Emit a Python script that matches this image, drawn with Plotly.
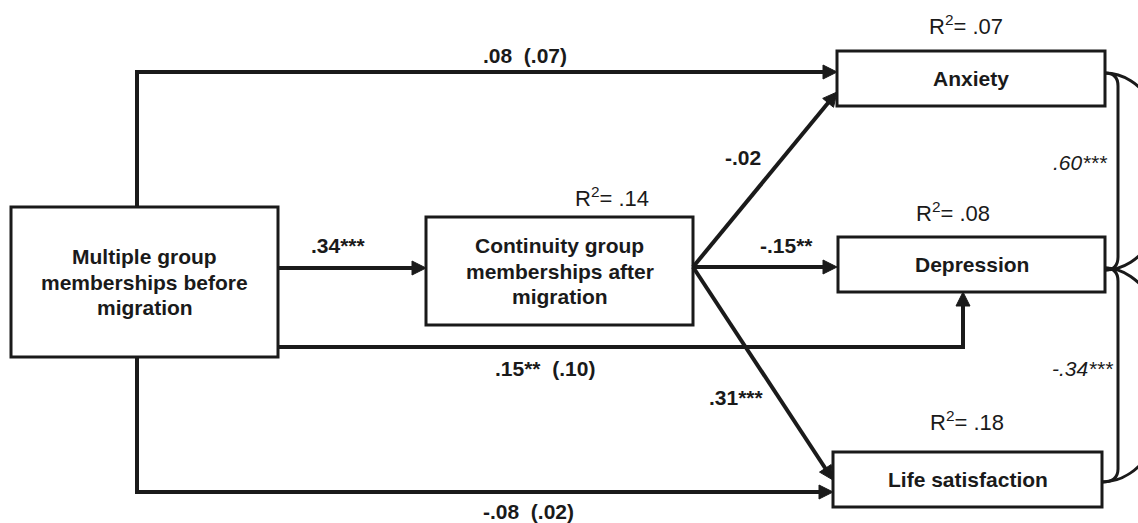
import math
import plotly.graph_objects as go

# ---------------- content ----------------
node_labels = [
    ["Multiple group", "memberships before", "migration"],
    ["Continuity group", "memberships after", "migration"],
    ["Anxiety"],
    ["Depression"],
    ["Life satisfaction"],
]
r2_labels = ["", ".14", ".07", ".08", ".18"]
path_labels = [".34***", "-.02", "-.15**", ".31***"]
direct_labels = [".08\u00a0\u00a0(.07)", ".15**\u00a0\u00a0(.10)", "-.08\u00a0\u00a0(.02)"]
corr_labels = [".60***", "-.34***"]

# ---------------- layout geometry (pixels, y down) ----------------
W, H = 1138, 523
boxes = [  # x0, y0, x1, y1
    (11, 207, 278, 357),
    (426, 217, 693, 325),
    (837, 51, 1105, 106),
    (838, 237, 1105, 292),
    (833, 452, 1102, 507),
]
LINE_H = 25.5
r2_pos = [None, (612, 197), (966, 25), (953, 212), (967, 421)]
path_pos = [(338, 245), (743, 157), (786, 245), (736, 397)]
direct_pos = [(525, 55), (545, 368), (528, 511)]
corr_pos = [(1080, 162), (1083, 368)]

# arrow polylines (last point is the arrow tip)
arrows = [
    [(137, 207), (137, 72), (837, 72)],
    [(278, 268), (426, 268)],
    [(693, 267), (837, 92)],
    [(693, 267), (837, 267)],
    [(693, 267), (833, 480)],
    [(278, 347), (963, 347), (963, 292)],
    [(137, 357), (137, 492), (833, 492)],
]

FONT = "Liberation Sans, Arial, sans-serif"
INK = "#1a1a1a"
FS = 21

shapes = []
annotations = []

for (x0, y0, x1, y1) in boxes:
    shapes.append(dict(type="rect", xref="x", yref="y", x0=x0, y0=y0, x1=x1, y1=y1,
                       line=dict(color=INK, width=3), fillcolor="white", layer="above"))

HEAD_L, HEAD_W = 14, 14
for pts in arrows:
    (xa, ya), (xt, yt) = pts[-2], pts[-1]
    d = math.hypot(xt - xa, yt - ya)
    ux, uy = (xt - xa) / d, (yt - ya) / d
    bx, by = xt - ux * HEAD_L, yt - uy * HEAD_L
    ex, ey = xt - ux * HEAD_L * 0.6, yt - uy * HEAD_L * 0.6
    line_pts = pts[:-1] + [(ex, ey)]
    p = "M " + " L ".join(f"{x:.1f},{y:.1f}" for x, y in line_pts)
    shapes.append(dict(type="path", xref="x", yref="y", path=p,
                       line=dict(color=INK, width=4)))
    nx, ny = -uy, ux
    tri = (f"M {xt:.1f},{yt:.1f} L {bx + nx*HEAD_W/2:.1f},{by + ny*HEAD_W/2:.1f} "
           f"L {bx - nx*HEAD_W/2:.1f},{by - ny*HEAD_W/2:.1f} Z")
    shapes.append(dict(type="path", xref="x", yref="y", path=tri,
                       line=dict(color=INK, width=1), fillcolor=INK))

# residual correlation brackets and arcs
def bracket(xs, ys, xe, ye, xin=1118, r=13, rx=66):
    inner = (f"M {xs},{ys} Q {xin},{ys} {xin},{ys + r} L {xin},{ye - r} "
             f"Q {xin},{ye} {xe},{ye}")
    cy = (ys + ye) / 2
    ry = (ye - ys) / 2
    k = 0.5523
    xc = max(xs, xe)
    outer = (f"M {xs},{ys} C {xc + rx*k},{ys} {xc + rx},{cy - ry*k} {xc + rx},{cy} "
             f"C {xc + rx},{cy + ry*k} {xc + rx*k},{ye} {xe},{ye}")
    return inner, outer

for (s, e) in [((1105, 73), (1105, 270)), ((1105, 268), (1102, 482))]:
    inner, outer = bracket(s[0], s[1], e[0], e[1])
    for p in (inner, outer):
        shapes.append(dict(type="path", xref="x", yref="y", path=p,
                           line=dict(color=INK, width=3)))

def txt(x, y, text, bold=False, italic=False, size=FS):
    annotations.append(dict(x=x, y=y, xref="x", yref="y", text=text, showarrow=False,
                            xanchor="center", yanchor="middle",
                            font=dict(family=FONT, size=size, color=INK,
                                      weight="bold" if bold else "normal",
                                      style="italic" if italic else "normal")))

for (x0, y0, x1, y1), lines in zip(boxes, node_labels):
    cx, cy = (x0 + x1) / 2, (y0 + y1) / 2
    n = len(lines)
    for i, line in enumerate(lines):
        txt(cx, cy + (i - (n - 1) / 2) * LINE_H, line, bold=True)
for pos, val in zip(r2_pos, r2_labels):
    if pos:
        txt(pos[0], pos[1], f"R<sup>2</sup>= {val}", size=22)
for pos, lab in zip(path_pos, path_labels):
    txt(pos[0], pos[1], lab, bold=True)
for pos, lab in zip(direct_pos, direct_labels):
    txt(pos[0], pos[1], lab, bold=True)
for pos, lab in zip(corr_pos, corr_labels):
    txt(pos[0], pos[1], lab, italic=True)

fig = go.Figure()
fig.update_layout(
    width=W, height=H, margin=dict(l=0, r=0, t=0, b=0),
    paper_bgcolor="white", plot_bgcolor="white",
    xaxis=dict(range=[0, W], visible=False, fixedrange=True),
    yaxis=dict(range=[H, 0], visible=False, fixedrange=True),
    shapes=shapes, annotations=annotations, showlegend=False,
)
fig.write_html("out.html", config={"displayModeBar": False},
               post_script="document.body.style.margin='0';document.body.style.overflow='hidden';")
